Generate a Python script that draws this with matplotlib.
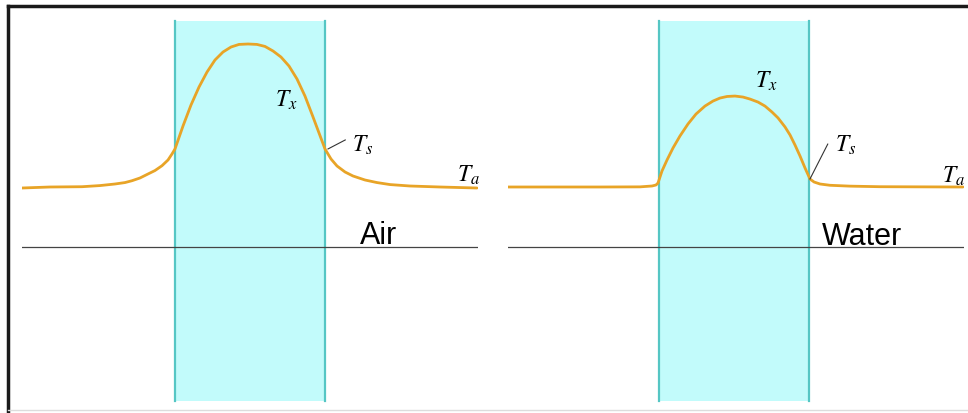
import matplotlib
matplotlib.use("Agg")
import matplotlib.pyplot as plt
from matplotlib.lines import Line2D
from matplotlib.patches import Rectangle

plt.rcParams['font.family'] = ['Liberation Sans', 'DejaVu Sans']
plt.rcParams['mathtext.fontset'] = 'stix'

# x in slab half-widths (slab spans -1..1), y = temperature above ambient (peak of air case = 1)
air_x = [-3.04, -2.667, -2.24, -2.0, -1.8, -1.667, -1.573, -1.467, -1.36, -1.267, -1.173,
         -1.093, -1.04, -1.0, -0.893, -0.787, -0.68, -0.573, -0.467, -0.36, -0.253, -0.147,
         -0.027, 0.093, 0.2, 0.307, 0.413, 0.52, 0.627, 0.733, 0.84, 0.92, 1.0, 1.08, 1.16,
         1.267, 1.373, 1.533, 1.693, 1.867, 2.133, 2.533, 3.027]
air_t = [-0.007, 0.0, 0.002, 0.010, 0.021, 0.031, 0.044, 0.063, 0.091, 0.115, 0.149,
         0.189, 0.231, 0.266, 0.427, 0.573, 0.699, 0.804, 0.888, 0.944, 0.979, 0.997,
         1.0, 0.997, 0.983, 0.951, 0.909, 0.846, 0.755, 0.636, 0.49, 0.378, 0.266, 0.196, 0.147,
         0.105, 0.077, 0.049, 0.031, 0.017, 0.007, 0.0, -0.007]

water_x = [-3.013, -1.787, -1.253, -1.093, -1.04, -1.013, -0.96, -0.893, -0.813, -0.72,
           -0.613, -0.507, -0.387, -0.28, -0.187, -0.093, 0.013, 0.12, 0.213, 0.32, 0.413,
           0.507, 0.587, 0.68, 0.747, 0.813, 0.88, 0.947, 1.013, 1.067, 1.147, 1.28, 1.547,
           1.947, 3.053]
water_t = [0.0, 0.0, 0.001, 0.007, 0.014, 0.028, 0.112, 0.189, 0.273, 0.357,
           0.441, 0.51, 0.566, 0.601, 0.622, 0.633, 0.636, 0.629, 0.615, 0.594, 0.566,
           0.524, 0.483, 0.42, 0.364, 0.294, 0.217, 0.133, 0.056, 0.035, 0.021, 0.012, 0.006,
           0.002, 0.0]

slab = [-1.0, 1.0]
baseline_t = -0.42
medium = ['Air', 'Water']

orange = '#e8a427'
cyan_fill = '#c2fbfb'
cyan_edge = '#55c6c4'

W, H = 968, 414
fig = plt.figure(figsize=(W / 100, H / 100), dpi=100)

panels = [
    dict(left=22, center=250, x=air_x, t=air_t, name=medium[0],
         tx=(0.33, 0.566), ts=(1.36, 0.252), ts_line=((1.04, 1.27), (0.266, 0.329)),
         ta=(2.76, 0.042), lab=(1.47, -0.39)),
    dict(left=508, center=734, x=water_x, t=water_t, name=medium[1],
         tx=(0.28, 0.70), ts=(1.35, 0.252), ts_line=((1.013, 1.25), (0.056, 0.30)),
         ta=(2.77, 0.035), lab=(1.17, -0.40)),
]

for p in panels:
    ax = fig.add_axes([p['left'] / W, 0, 456 / W, 1])
    x0 = (p['left'] - p['center']) / 75
    ax.set_xlim(x0, x0 + 456 / 75)
    ax.set_ylim((188 - H) / 143, 188 / 143)
    ax.axis('off')
    ax.add_patch(Rectangle((slab[0], (188 - 402) / 143), slab[1] - slab[0], 380 / 143,
                           facecolor=cyan_fill, edgecolor='none', zorder=1))
    for s in slab:
        ax.plot([s, s], [(188 - 402) / 143, (188 - 22) / 143], color=cyan_edge, lw=1.6, zorder=2)
    ax.axhline(baseline_t, color='#444444', lw=0.9, zorder=2)
    ax.plot(p['x'], p['t'], color=orange, lw=2.0, zorder=3,
            solid_capstyle='round', solid_joinstyle='round')
    ax.text(*p['tx'], r'$T_x$', fontsize=17, ha='left', va='baseline', zorder=4)
    ax.text(*p['ts'], r'$T_s$', fontsize=17, ha='left', va='baseline', zorder=4)
    ax.text(*p['ta'], r'$T_a$', fontsize=17, ha='left', va='baseline', zorder=4)
    ax.plot(*p['ts_line'], color='#333333', lw=0.8, zorder=4)
    ax.text(*p['lab'], p['name'], fontsize=22, ha='left', va='baseline', zorder=4)

# outer frame
fig.add_artist(Line2D([8 / W, 8 / W], [0, 1 - 7 / H], color='#1a1a1a', lw=2.5,
                      transform=fig.transFigure))
fig.add_artist(Line2D([8 / W, 1], [1 - 7 / H, 1 - 7 / H], color='#1a1a1a', lw=2.5,
                      transform=fig.transFigure))
fig.add_artist(Line2D([8 / W, 1], [3 / H, 3 / H], color='#dddddd', lw=1.0,
                      transform=fig.transFigure))

fig.savefig('out.png', dpi=100)
